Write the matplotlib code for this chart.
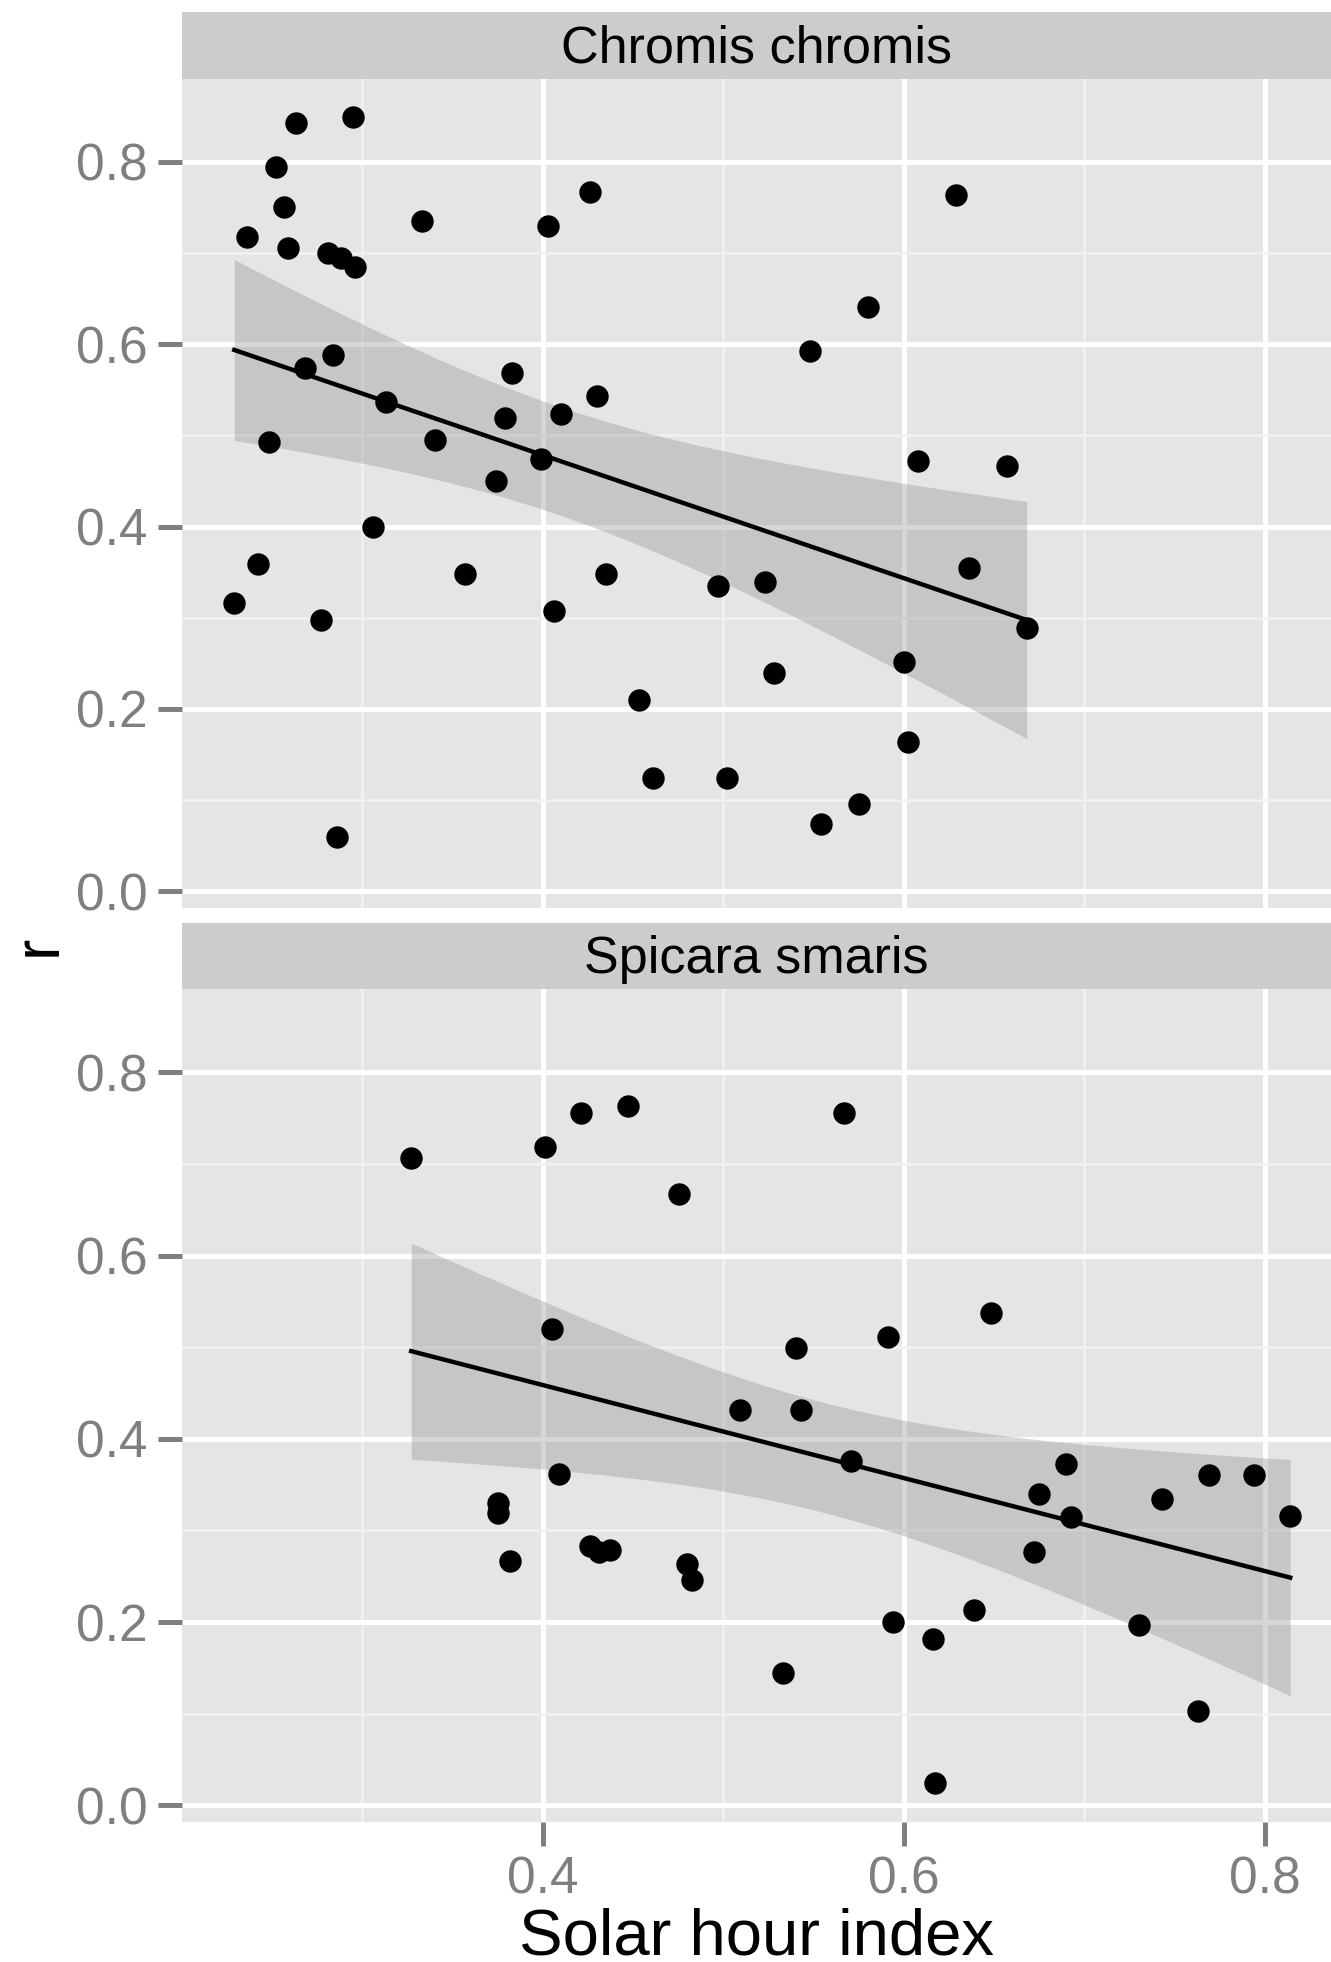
import matplotlib
matplotlib.use("Agg")
import matplotlib.pyplot as plt
import numpy as np

plt.rcParams['font.family'] = ['Liberation Sans', 'DejaVu Sans']

# Chromis chromis
chromis_x = [0.229, 0.236, 0.242, 0.248, 0.252, 0.2565, 0.259, 0.263, 0.268, 0.277,
             0.281, 0.2835, 0.286, 0.288, 0.295, 0.296, 0.306, 0.313, 0.333, 0.340,
             0.357, 0.374, 0.379, 0.383, 0.399, 0.403, 0.406, 0.410, 0.426, 0.430,
             0.435, 0.453, 0.461, 0.497, 0.502, 0.523, 0.528, 0.548, 0.554, 0.575,
             0.580, 0.600, 0.602, 0.608, 0.629, 0.636, 0.657, 0.668]
chromis_r = [0.316, 0.718, 0.359, 0.493, 0.794, 0.750, 0.705, 0.843, 0.574, 0.298,
             0.700, 0.588, 0.060, 0.694, 0.849, 0.685, 0.399, 0.537, 0.735, 0.495,
             0.348, 0.450, 0.519, 0.568, 0.474, 0.730, 0.307, 0.523, 0.767, 0.543,
             0.348, 0.210, 0.124, 0.335, 0.124, 0.339, 0.239, 0.593, 0.074, 0.096,
             0.641, 0.251, 0.164, 0.472, 0.764, 0.354, 0.466, 0.289]

# Spicara smaris
spicara_x = [0.327, 0.375, 0.375, 0.382, 0.401, 0.405, 0.409, 0.421, 0.426, 0.431,
             0.437, 0.447, 0.4755, 0.480, 0.4825, 0.509, 0.533, 0.540, 0.543, 0.567,
             0.5705, 0.591, 0.594, 0.616, 0.617, 0.639, 0.648, 0.672, 0.675, 0.690,
             0.6925, 0.730, 0.743, 0.763, 0.769, 0.794, 0.814]
spicara_r = [0.706, 0.330, 0.319, 0.267, 0.718, 0.520, 0.362, 0.756, 0.283, 0.276,
             0.279, 0.763, 0.667, 0.263, 0.246, 0.431, 0.145, 0.499, 0.432, 0.755,
             0.376, 0.511, 0.200, 0.182, 0.024, 0.213, 0.537, 0.276, 0.340, 0.372,
             0.315, 0.197, 0.334, 0.103, 0.361, 0.361, 0.316]

species = ["Chromis chromis", "Spicara smaris"]
t_crit = {"Chromis chromis": 2.0129, "Spicara smaris": 2.0301}

panel_bg = "#E5E5E5"
strip_bg = "#CCCCCC"
tick_grey = "#7F7F7F"

fig = plt.figure(figsize=(13.31, 19.62), dpi=100)

panels = [
    (species[0], chromis_x, chromis_r, [0.1367, 0.5374, 0.8633, 0.4224], [0.1367, 0.9597, 0.8633, 0.0341]),
    (species[1], spicara_x, spicara_r, [0.1367, 0.0714, 0.8633, 0.4246], [0.1367, 0.4959, 0.8633, 0.0336]),
]

for i, (name, xs, ys, pos, spos) in enumerate(panels):
    x = np.array(xs)
    y = np.array(ys)
    ax = fig.add_axes(pos)
    ax.set_facecolor(panel_bg)
    for s in ax.spines.values():
        s.set_visible(False)

    # lm fit with 95% CI
    n = len(x)
    b, a = np.polyfit(x, y, 1)
    xg = np.linspace(x.min(), x.max(), 80)
    yg = a + b * xg
    resid = y - (a + b * x)
    s_err = np.sqrt(np.sum(resid ** 2) / (n - 2))
    sxx = np.sum((x - x.mean()) ** 2)
    se = s_err * np.sqrt(1.0 / n + (xg - x.mean()) ** 2 / sxx)
    ci = t_crit[name] * se

    ax.fill_between(xg, yg - ci, yg + ci, color="#999999", alpha=0.4, lw=0, zorder=2)
    ax.plot(xg, yg, color="black", lw=3.2, zorder=3)
    ax.scatter(x, y, s=260, color="black", lw=0, zorder=4)

    ax.set_xlim(0.2, 0.8366)
    ax.set_ylim(-0.018, 0.891)
    ax.set_xticks([0.4, 0.6, 0.8])
    ax.set_yticks([0.0, 0.2, 0.4, 0.6, 0.8])
    ax.set_xticks([0.3, 0.5, 0.7], minor=True)
    ax.set_yticks([0.1, 0.3, 0.5, 0.7], minor=True)
    ax.grid(which="major", color="white", lw=3.6, zorder=1)
    ax.grid(which="minor", color="#F2F2F2", lw=1.8, zorder=1)
    ax.set_axisbelow(True)
    ax.set_yticklabels(["0.0", "0.2", "0.4", "0.6", "0.8"])
    ax.tick_params(axis="y", which="major", length=17, width=3.6, color=tick_grey,
                   labelcolor=tick_grey, labelsize=37, pad=8)
    ax.tick_params(which="minor", length=0)
    if i == 0:
        ax.tick_params(axis="x", which="major", length=0, labelbottom=False)
    else:
        ax.set_xticklabels(["0.4", "0.6", "0.8"])
        ax.tick_params(axis="x", which="major", length=17, width=3.6, color=tick_grey,
                       labelcolor=tick_grey, labelsize=37, pad=7)
        ax.set_xlabel("Solar hour index", fontsize=47, labelpad=2)

    sax = fig.add_axes(spos)
    sax.set_facecolor(strip_bg)
    sax.set_xticks([])
    sax.set_yticks([])
    for s in sax.spines.values():
        s.set_visible(False)
    sax.text(0.5, 0.45, name, ha="center", va="center", fontsize=37.5, color="black",
             transform=sax.transAxes)

fig.text(0.029, 0.518, "r", rotation=90, ha="center", va="center", fontsize=46)

plt.savefig("out.png", dpi=100)
